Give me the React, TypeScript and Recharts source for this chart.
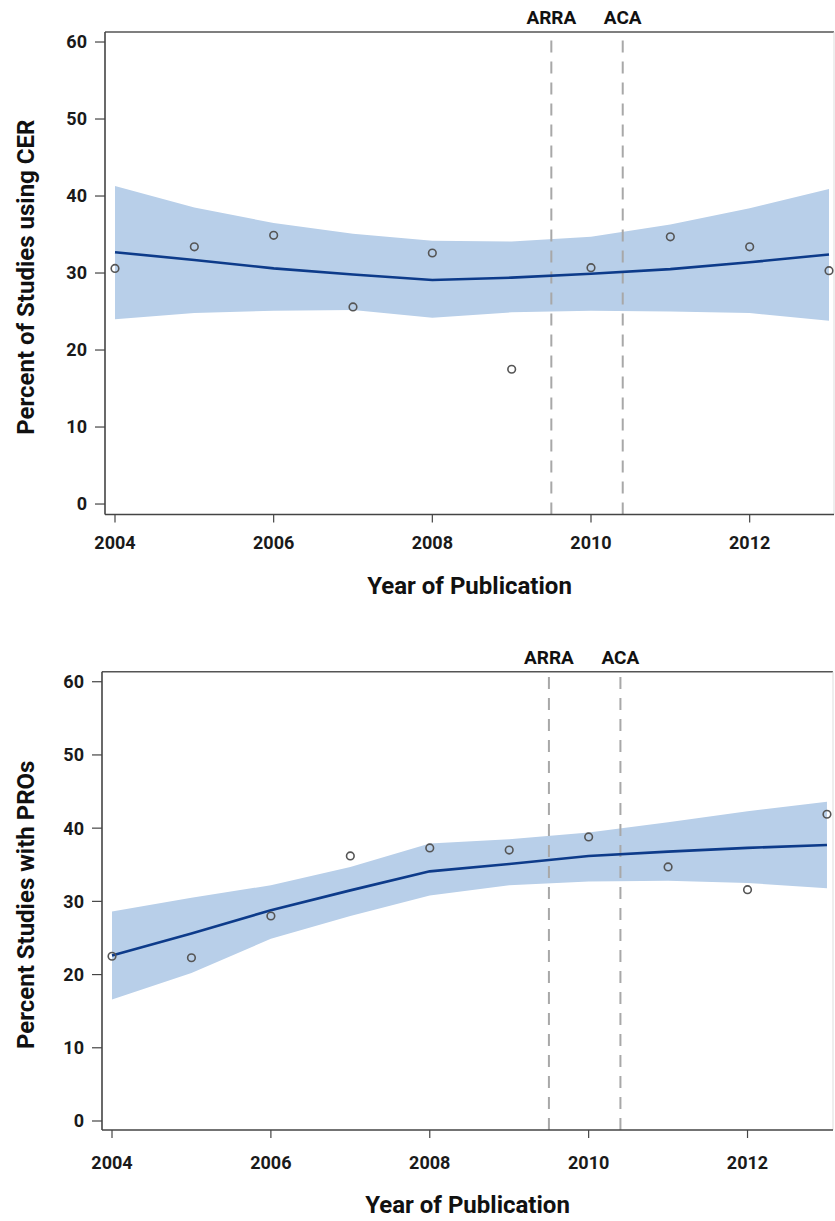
import React from 'react';
import {
  ComposedChart,
  Area,
  Line,
  Scatter,
  XAxis,
  YAxis,
  ReferenceLine,
} from 'recharts';

// publication years
const years = [2004, 2005, 2006, 2007, 2008, 2009, 2010, 2011, 2012, 2013];

// top panel: % of studies using CER
const cerPct = [30.6, 33.4, 34.9, 25.6, 32.6, 17.5, 30.7, 34.7, 33.4, 30.3];
const cerFit = [32.7, 31.7, 30.6, 29.8, 29.1, 29.4, 29.9, 30.5, 31.4, 32.4];
const cerLow = [24.0, 24.8, 25.1, 25.2, 24.2, 24.9, 25.1, 25.0, 24.8, 23.8];
const cerHigh = [41.3, 38.5, 36.5, 35.1, 34.2, 34.1, 34.7, 36.3, 38.4, 40.9];

// bottom panel: % of studies with PROs
const proPct = [22.5, 22.3, 28.0, 36.2, 37.3, 37.0, 38.8, 34.7, 31.6, 41.9];
const proFit = [22.6, 25.6, 28.8, 31.5, 34.1, 35.1, 36.2, 36.8, 37.3, 37.7];
const proLow = [16.6, 20.2, 24.9, 28.0, 30.8, 32.2, 32.7, 32.8, 32.5, 31.8];
const proHigh = [28.6, 30.5, 32.2, 34.7, 37.9, 38.5, 39.4, 40.8, 42.3, 43.6];

const xTicks = [2004, 2006, 2008, 2010, 2012];
const yTicks = [0, 10, 20, 30, 40, 50, 60];

const ARRA_YEAR = 2009.5;
const ACA_YEAR = 2010.4;

const FONT = "Roboto, 'Open Sans', sans-serif";
const AXIS = '#444';

function buildRows(pct: number[], fit: number[], low: number[], high: number[]) {
  return years.map((year, i) => ({
    year,
    pct: pct[i],
    fit: fit[i],
    band: [low[i], high[i]],
  }));
}

const YTitle = (props: any) => {
  const { viewBox, value, dx } = props;
  const cx = viewBox.x + dx;
  const cy = viewBox.y + viewBox.height / 2 + 4;
  return (
    <text
      x={cx}
      y={cy}
      transform={`rotate(-90 ${cx} ${cy})`}
      textAnchor="middle"
      dominantBaseline="central"
      fontFamily={FONT}
      fontWeight={700}
      fontSize={24}
      fill="#111"
    >
      {value}
    </text>
  );
};

const XTitle = (props: any) => {
  const { viewBox, value, dy } = props;
  return (
    <text
      x={viewBox.x + viewBox.width / 2}
      y={viewBox.y + dy}
      textAnchor="middle"
      dominantBaseline="central"
      fontFamily={FONT}
      fontWeight={700}
      fontSize={24}
      fill="#111"
    >
      {value}
    </text>
  );
};

const Dot = (props: any) => (
  <circle cx={props.cx} cy={props.cy} r={3.8} fill="none" stroke="#555" strokeWidth={1.6} />
);

interface PanelProps {
  rows: any[];
  yTitle: string;
  top: number;
  height: number;
  margin: { top: number; right: number; bottom: number; left: number };
  yAxisWidth: number;
  xDomain: [number, number];
  yDomain: [number, number];
  tickMargin: number;
  titleDy: number;
}

function Panel(p: PanelProps) {
  const tickStyle = { fontFamily: FONT, fontWeight: 700, fontSize: 18, fill: '#1a1a1a' };
  const eventLabel = (value: string) => ({
    value,
    position: 'top' as const,
    offset: 8,
    fontFamily: FONT,
    fontWeight: 700,
    fontSize: 19,
    fill: '#111',
  });
  return (
    <div style={{ position: 'absolute', left: 0, top: p.top }}>
      <ComposedChart width={835} height={p.height} data={p.rows} margin={p.margin}>
        <XAxis
          type="number"
          dataKey="year"
          domain={p.xDomain}
          allowDataOverflow
          ticks={xTicks}
          height={80}
          tickSize={8}
          tickMargin={p.tickMargin}
          tick={tickStyle}
          axisLine={{ stroke: AXIS, strokeWidth: 1.6 }}
          tickLine={{ stroke: AXIS, strokeWidth: 1.2 }}
          label={<XTitle value="Year of Publication" dy={p.titleDy} />}
        />
        <YAxis
          type="number"
          domain={p.yDomain}
          allowDataOverflow
          ticks={yTicks}
          width={p.yAxisWidth}
          tickSize={10}
          tickMargin={8}
          tick={tickStyle}
          axisLine={{ stroke: AXIS, strokeWidth: 1.6 }}
          tickLine={{ stroke: AXIS, strokeWidth: 1.2 }}
          label={<YTitle value={p.yTitle} dx={26} />}
        />
        <ReferenceLine y={p.yDomain[1]} stroke="#555" strokeWidth={1.6} />
        <ReferenceLine x={p.xDomain[1]} stroke="#ddd" strokeWidth={1} />
        <Area
          type="linear"
          dataKey="band"
          stroke="none"
          fill="#b8cfe9"
          fillOpacity={1}
          isAnimationActive={false}
        />
        <ReferenceLine
          x={ARRA_YEAR}
          stroke="#a8a8a8"
          strokeWidth={2}
          strokeDasharray="12 9"
          label={eventLabel('ARRA')}
        />
        <ReferenceLine
          x={ACA_YEAR}
          stroke="#a8a8a8"
          strokeWidth={2}
          strokeDasharray="12 9"
          label={eventLabel('ACA')}
        />
        <Line
          type="linear"
          dataKey="fit"
          stroke="#0d3b8a"
          strokeWidth={2.6}
          dot={false}
          isAnimationActive={false}
        />
        <Scatter dataKey="pct" shape={<Dot />} isAnimationActive={false} />
      </ComposedChart>
    </div>
  );
}

export default function App() {
  const cerRows = buildRows(cerPct, cerFit, cerLow, cerHigh);
  const proRows = buildRows(proPct, proFit, proLow, proHigh);
  return (
    <div
      style={{
        position: 'absolute',
        left: 0,
        top: 0,
        width: 835,
        height: 1221,
        overflow: 'hidden',
        background: '#fff',
      }}
    >
      <Panel
        rows={cerRows}
        yTitle="Percent of Studies using CER"
        top={0}
        height={600}
        margin={{ top: 32, right: 1, bottom: 5.5, left: 0 }}
        yAxisWidth={105}
        xDomain={[2003.874, 2013.063]}
        yDomain={[-1.36, 61.3]}
        tickMargin={14}
        titleDy={71.5}
      />
      <Panel
        rows={proRows}
        yTitle="Percent Studies with PROs"
        top={620}
        height={601}
        margin={{ top: 51.7, right: 2, bottom: 11, left: 0 }}
        yAxisWidth={102}
        xDomain={[2003.874, 2013.076]}
        yDomain={[-1.23, 61.37]}
        tickMargin={18}
        titleDy={75}
      />
    </div>
  );
}
